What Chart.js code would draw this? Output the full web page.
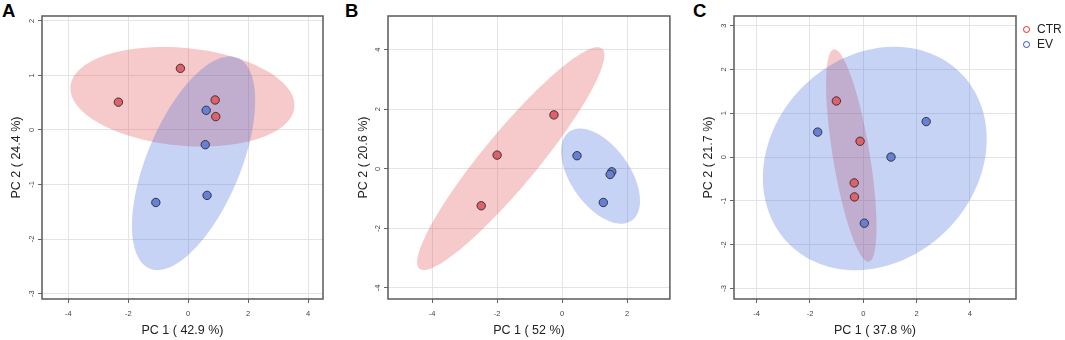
<!DOCTYPE html>
<html>
<head>
<meta charset="utf-8">
<script src="https://cdn.jsdelivr.net/npm/chart.js@4/dist/chart.umd.min.js"></script>
<style>
  body { margin: 0; background: #fff; width: 1065px; height: 340px; position: relative; overflow: hidden;
         font-family: "Liberation Sans", Arial, sans-serif; }
  .panel { position: absolute; top: 0; height: 340px; }
  .tag { position: absolute; font-weight: bold; font-size: 18.5px; line-height: 18.5px; color: #000; }
  .legend { position: absolute; left: 1023px; top: 22px; font-size: 12px; color: #222; line-height: 15px; }
  .legend div { display: flex; align-items: center; }
  .legend span { display: inline-block; width: 5px; height: 5px; border-radius: 50%; margin-right: 7px; }
</style>
</head>
<body>
<div class="tag" style="left:2px;top:2px">A</div>
<div class="tag" style="left:345px;top:2px">B</div>
<div class="tag" style="left:693px;top:2px">C</div>
<div class="panel" style="left:0;width:330px"><canvas id="pcaA"></canvas></div>
<div class="panel" style="left:340px;width:335px"><canvas id="pcaB"></canvas></div>
<div class="panel" style="left:690px;width:335px"><canvas id="pcaC"></canvas></div>
<div class="legend">
  <div><span style="border:1.3px solid #ee2222"></span>CTR</div>
  <div><span style="border:1.3px solid #2f45dd"></span>EV</div>
</div>
<script>
// groups
var groups = ["CTR", "EV"];

// panel A
var ctrA_x = [-0.26, -2.33, 0.90, 0.92];
var ctrA_y = [1.13, 0.51, 0.55, 0.245];
var evA_x = [0.60, 0.57, 0.63, -1.08];
var evA_y = [0.36, -0.27, -1.20, -1.33];
var ticksA_x = [-4, -2, 0, 2, 4];
var ticksA_y = [-3, -2, -1, 0, 1, 2];

// panel B
var ctrB_x = [-0.25, -2.0, -2.49];
var ctrB_y = [1.81, 0.46, -1.24];
var evB_x = [0.46, 1.53, 1.48, 1.27];
var evB_y = [0.44, -0.10, -0.19, -1.13];
var ticksB_x = [-4, -2, 0, 2];
var ticksB_y = [-4, -2, 0, 2, 4];

// panel C
var ctrC_x = [-1.01, -0.12, -0.34, -0.33];
var ctrC_y = [1.28, 0.36, -0.59, -0.91];
var evC_x = [-1.71, 1.04, 2.36, 0.04];
var evC_y = [0.57, 0.00, 0.81, -1.51];
var ticksC_x = [-4, -2, 0, 2, 4];
var ticksC_y = [-3, -2, -1, 0, 1, 2, 3];

// 95% 신뢰 타원 (sqrt(qchisq(0.95, 2)))
var ellipseLevel = 2.4477;

Chart.defaults.font.family = "'Liberation Sans', Arial, sans-serif";

function toPoints(xs, ys) {
  return xs.map(function (x, i) { return { x: x, y: ys[i] }; });
}

// 그룹별 공분산 타원
var ellipsePlugin = {
  id: 'ellipses',
  beforeDatasetsDraw: function (chart) {
    var ctx = chart.ctx, xs = chart.scales.x, ys = chart.scales.y, a = chart.chartArea;
    ctx.save();
    ctx.beginPath();
    ctx.rect(a.left, a.top, a.right - a.left, a.bottom - a.top);
    ctx.clip();
    chart.data.datasets.forEach(function (ds) {
      var pts = ds.data, n = pts.length;
      var mx = 0, my = 0;
      pts.forEach(function (p) { mx += p.x; my += p.y; });
      mx /= n; my /= n;
      var sxx = 0, syy = 0, sxy = 0;
      pts.forEach(function (p) {
        sxx += (p.x - mx) * (p.x - mx);
        syy += (p.y - my) * (p.y - my);
        sxy += (p.x - mx) * (p.y - my);
      });
      sxx /= n - 1; syy /= n - 1; sxy /= n - 1;
      var l11 = Math.sqrt(sxx), l21 = sxy / l11, l22 = Math.sqrt(Math.max(syy - l21 * l21, 0));
      ctx.beginPath();
      for (var i = 0; i <= 120; i++) {
        var t = i / 120 * Math.PI * 2;
        var vx = mx + ellipseLevel * l11 * Math.cos(t);
        var vy = my + ellipseLevel * (l21 * Math.cos(t) + l22 * Math.sin(t));
        var px = xs.getPixelForValue(vx), py = ys.getPixelForValue(vy);
        if (i === 0) ctx.moveTo(px, py); else ctx.lineTo(px, py);
      }
      ctx.closePath();
      ctx.fillStyle = ds.ellipseColor;
      ctx.fill();
    });
    ctx.restore();
  },
  afterDraw: function (chart) {
    var ctx = chart.ctx, a = chart.chartArea, ys = chart.scales.y;
    // y 눈금 라벨 (세로로 회전)
    ctx.save();
    ctx.font = "7.5px 'Liberation Sans', Arial, sans-serif";
    ctx.fillStyle = '#444';
    ctx.textAlign = 'center';
    ctx.textBaseline = 'middle';
    ys.ticks.forEach(function (t) {
      ctx.save();
      ctx.translate(a.left - 10.5, ys.getPixelForValue(t.value));
      ctx.rotate(-Math.PI / 2);
      ctx.fillText(String(t.value), 0, 0);
      ctx.restore();
    });
    // 테두리
    ctx.strokeStyle = '#5a5a5a';
    ctx.lineWidth = 1.5;
    ctx.strokeRect(a.left, a.top, a.right - a.left, a.bottom - a.top);
    ctx.restore();
  }
};

function makePca(id, cfg) {
  var gridOpts = { color: '#e4e4e4', lineWidth: 1, drawTicks: true, tickLength: 4, tickColor: '#666' };
  new Chart(document.getElementById(id), {
    type: 'scatter',
    data: {
      datasets: [
        { label: groups[0], data: toPoints(cfg.ctrX, cfg.ctrY), backgroundColor: '#e0616a',
          borderColor: '#2a2a2a', borderWidth: 0.9, pointRadius: 4.2, ellipseColor: 'rgba(225,75,80,0.30)' },
        { label: groups[1], data: toPoints(cfg.evX, cfg.evY), backgroundColor: '#6680d8',
          borderColor: '#2a2a2a', borderWidth: 0.9, pointRadius: 4.2, ellipseColor: 'rgba(70,110,220,0.30)' }
      ]
    },
    options: {
      responsive: false,
      animation: false,
      layout: { padding: { left: 0, right: cfg.padRight, top: 16, bottom: 0 } },
      plugins: { legend: { display: false }, tooltip: { enabled: false } },
      scales: {
        x: {
          type: 'linear', min: cfg.xMin, max: cfg.xMax,
          afterBuildTicks: function (s) { s.ticks = cfg.xTicks.map(function (v) { return { value: v }; }); },
          afterFit: function (s) { s.height = 41; },
          grid: gridOpts,
          border: { display: false },
          ticks: { font: { size: 7.5 }, color: '#444', padding: 6, maxRotation: 0, autoSkip: false },
          title: { display: true, text: cfg.xTitle, color: '#222', font: { size: 12.5 }, padding: { top: 0, bottom: 2 } }
        },
        y: {
          type: 'linear', min: cfg.yMin, max: cfg.yMax,
          afterBuildTicks: function (s) { s.ticks = cfg.yTicks.map(function (v) { return { value: v }; }); },
          afterFit: function (s) { s.width = cfg.yWidth; },
          grid: gridOpts,
          border: { display: false },
          ticks: { display: false },
          title: { display: true, text: cfg.yTitle, color: '#222', font: { size: 12.5 }, padding: { top: cfg.yTitlePad, bottom: 0 } }
        }
      }
    },
    plugins: [ellipsePlugin]
  });
}

document.getElementById('pcaA').width = 330;
document.getElementById('pcaA').height = 340;
document.getElementById('pcaB').width = 335;
document.getElementById('pcaB').height = 340;
document.getElementById('pcaC').width = 335;
document.getElementById('pcaC').height = 340;

makePca('pcaA', {
  ctrX: ctrA_x, ctrY: ctrA_y, evX: evA_x, evY: evA_y, xTicks: ticksA_x, yTicks: ticksA_y,
  xMin: -4.88, xMax: 4.5, yMin: -3.10, yMax: 2.09, yWidth: 42, padRight: 7, yTitlePad: 9.5,
  xTitle: 'PC 1 ( 42.9 %)', yTitle: 'PC 2 ( 24.4 %)'
});
makePca('pcaB', {
  ctrX: ctrB_x, ctrY: ctrB_y, evX: evB_x, evY: evB_y, xTicks: ticksB_x, yTicks: ticksB_y,
  xMin: -5.36, xMax: 3.32, yMin: -4.37, yMax: 5.13, yWidth: 48, padRight: 5, yTitlePad: 15.8,
  xTitle: 'PC 1 ( 52 %)', yTitle: 'PC 2 ( 20.6 %)'
});
makePca('pcaC', {
  ctrX: ctrC_x, ctrY: ctrC_y, evX: evC_x, evY: evC_y, xTicks: ticksC_x, yTicks: ticksC_y,
  xMin: -4.85, xMax: 5.73, yMin: -3.24, yMax: 3.22, yWidth: 44, padRight: 9, yTitlePad: 10.8,
  xTitle: 'PC 1 ( 37.8 %)', yTitle: 'PC 2 ( 21.7 %)'
});
</script>
</body>
</html>
